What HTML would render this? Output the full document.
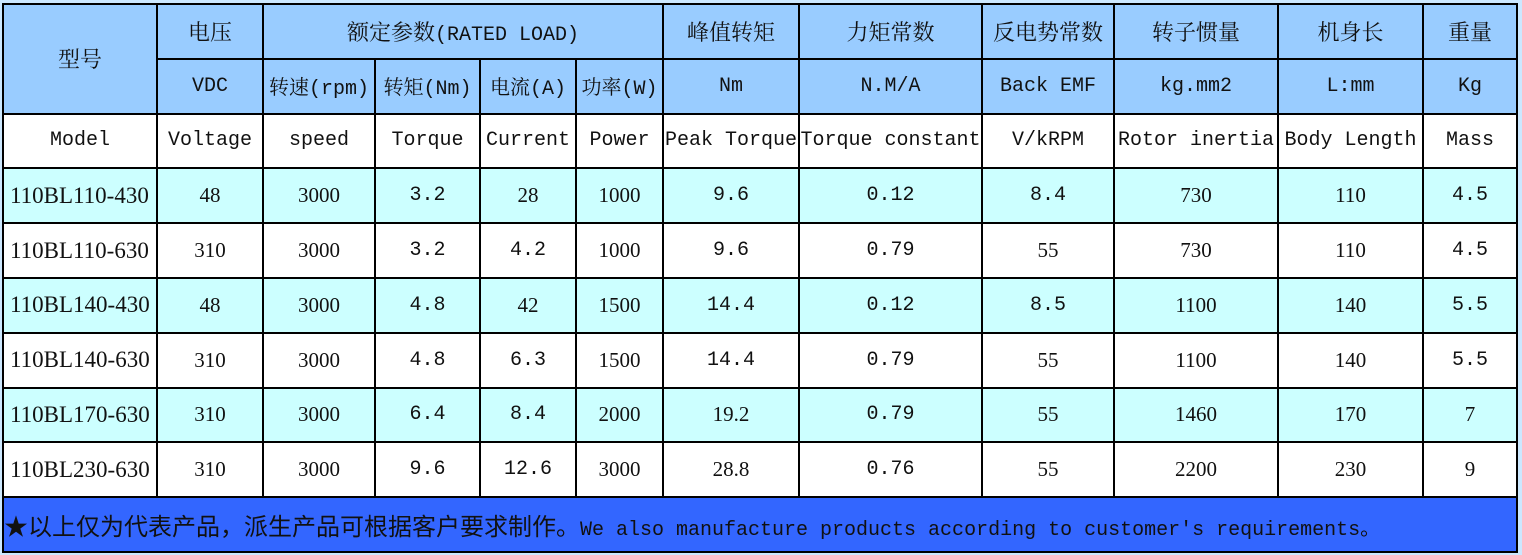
<!DOCTYPE html>
<html><head><meta charset="utf-8"><style>
html,body{margin:0;padding:0;width:1522px;height:555px;background:#cce8ff;overflow:hidden}
table{position:absolute;left:2px;top:3px;width:1516px;height:550px;border-collapse:collapse;table-layout:fixed;
font-family:"Liberation Serif","Noto Serif CJK SC",serif;font-size:21px;color:#111}
td{border:2.5px solid #000;text-align:center;vertical-align:middle;padding:0;white-space:nowrap;overflow:hidden;background:#fff}
tr{height:54.6px}
.h td{background:#99ccff}
.c td{background:#ccffff}
.m{font-family:"Liberation Mono","Noto Sans CJK SC",monospace;font-size:20px}
.cn{font-family:"Liberation Serif","Noto Serif CJK SC",serif;font-size:22px}
.md{font-size:23px;text-align:left;padding-left:6px}
.f td{background:#3366ff;text-align:left;font-family:"Liberation Mono","Noto Sans CJK SC",monospace;font-size:20px}
</style></head><body>
<table>
<colgroup><col style="width:154px"><col style="width:106px"><col style="width:112px"><col style="width:105px"><col style="width:96px"><col style="width:87px"><col style="width:136px"><col style="width:183px"><col style="width:132px"><col style="width:164px"><col style="width:145px"><col style="width:94px"></colgroup>
<tr class="h cn"><td rowspan="2" class="cn">型号</td><td class="cn">电压</td><td colspan="4" class="cn">额定参数<span class="m">(RATED LOAD)</span></td><td class="cn">峰值转矩</td><td class="cn">力矩常数</td><td class="cn">反电势常数</td><td class="cn">转子惯量</td><td class="cn">机身长</td><td class="cn">重量</td></tr>
<tr class="h"><td class="m">VDC</td><td class="cn" style="font-size:20px">转速<span class="m">(rpm)</span></td><td class="cn" style="font-size:20px">转矩<span class="m">(Nm)</span></td><td class="cn" style="font-size:20px">电流<span class="m">(A)</span></td><td class="cn" style="font-size:20px">功率<span class="m">(W)</span></td><td class="m">Nm</td><td class="m">N.M/A</td><td class="m">Back EMF</td><td class="m">kg.mm2</td><td class="m">L:mm</td><td class="m">Kg</td></tr>
<tr class="m"><td>Model</td><td>Voltage</td><td>speed</td><td>Torque</td><td>Current</td><td>Power</td><td>Peak Torque</td><td>Torque constant</td><td>V/kRPM</td><td>Rotor inertia</td><td>Body Length</td><td>Mass</td></tr>
<tr class="c"><td class="md">110BL110-430</td><td>48</td><td>3000</td><td class="m">3.2</td><td>28</td><td>1000</td><td class="m">9.6</td><td class="m">0.12</td><td class="m">8.4</td><td>730</td><td>110</td><td class="m">4.5</td></tr>
<tr><td class="md">110BL110-630</td><td>310</td><td>3000</td><td class="m">3.2</td><td class="m">4.2</td><td>1000</td><td class="m">9.6</td><td class="m">0.79</td><td>55</td><td>730</td><td>110</td><td class="m">4.5</td></tr>
<tr class="c"><td class="md">110BL140-430</td><td>48</td><td>3000</td><td class="m">4.8</td><td>42</td><td>1500</td><td class="m">14.4</td><td class="m">0.12</td><td class="m">8.5</td><td>1100</td><td>140</td><td class="m">5.5</td></tr>
<tr><td class="md">110BL140-630</td><td>310</td><td>3000</td><td class="m">4.8</td><td class="m">6.3</td><td>1500</td><td class="m">14.4</td><td class="m">0.79</td><td>55</td><td>1100</td><td>140</td><td class="m">5.5</td></tr>
<tr class="c"><td class="md">110BL170-630</td><td>310</td><td>3000</td><td class="m">6.4</td><td class="m">8.4</td><td>2000</td><td>19.2</td><td class="m">0.79</td><td>55</td><td>1460</td><td>170</td><td>7</td></tr>
<tr><td class="md">110BL230-630</td><td>310</td><td>3000</td><td class="m">9.6</td><td class="m">12.6</td><td>3000</td><td>28.8</td><td class="m">0.76</td><td>55</td><td>2200</td><td>230</td><td>9</td></tr>
<tr class="f"><td colspan="12"><span style="font-family:'Noto Sans CJK SC',sans-serif;font-size:24px">★以上仅为代表产品，派生产品可根据客户要求制作。</span>We also manufacture products according to customer's requirements。</td></tr>
</table>
</body></html>
